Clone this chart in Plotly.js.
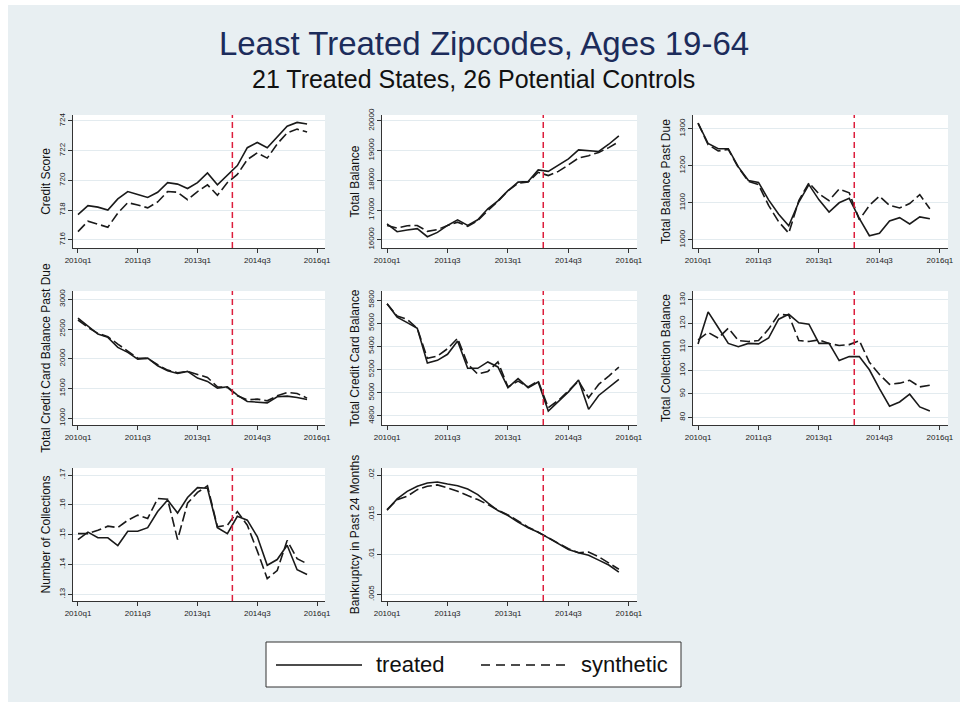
<!DOCTYPE html>
<html>
<head>
<meta charset="utf-8">
<script src="https://cdn.plot.ly/plotly-3.0.1.min.js"></script>
<style>
html,body{margin:0;padding:0;background:#ffffff;}
#chart{width:968px;height:707px;}
</style>
</head>
<body>
<div id="chart"></div>
<script>
// ---------------- DATA ----------------
const quarters = ['2010q1','2010q2','2010q3','2010q4','2011q1','2011q2','2011q3','2011q4',
  '2012q1','2012q2','2012q3','2012q4','2013q1','2013q2','2013q3','2013q4',
  '2014q1','2014q2','2014q3','2014q4','2015q1','2015q2','2015q3','2015q4'];
const xTickPositions = [0, 6, 12, 18, 24];
const xTickLabels = ['2010q1', '2011q3', '2013q1', '2014q3', '2016q1'];
const treatmentStart = 15.5;

const panelTitles = ['Credit Score', 'Total Balance', 'Total Balance Past Due',
  'Total Credit Card Balance Past Due', 'Total Credit Card Balance', 'Total Collection Balance',
  'Number of Collections', 'Bankruptcy in Past 24 Months'];

const creditScoreTreated = [717.7,718.3,718.2,718.0,718.75,719.25,719.05,718.85,719.2,719.85,719.75,719.45,719.85,720.5,719.7,720.35,721.0,722.2,722.55,722.2,722.9,723.65,723.9,723.8];
const creditScoreSynthetic = [716.55,717.25,717.05,716.85,717.8,718.5,718.35,718.15,718.55,719.25,719.2,718.7,719.25,719.7,719.0,719.85,720.4,721.4,721.85,721.5,722.45,723.2,723.45,723.25];
const creditScoreTicks = [716, 718, 720, 722, 724];

const totalBalanceTreated = [16530,16270,16325,16370,16100,16245,16480,16670,16480,16670,17040,17310,17650,17940,17960,18350,18300,18520,18720,19025,19000,18970,19215,19500];
const totalBalanceSynthetic = [16480,16390,16470,16480,16280,16340,16480,16590,16450,16640,16980,17290,17650,17900,17940,18270,18160,18300,18520,18750,18830,18940,19100,19300];
const totalBalanceTicks = [16000, 17000, 18000, 19000, 20000];

const pastDueTreated = [1315,1260,1246,1246,1197,1160,1155,1108,1069,1038,1102,1149,1108,1075,1100,1112,1058,1011,1018,1051,1060,1043,1062,1057];
const pastDueSynthetic = [1315,1257,1240,1244,1195,1158,1149,1093,1049,1018,1106,1154,1124,1106,1137,1127,1054,1093,1118,1093,1086,1098,1122,1084];
const pastDueTicks = [1000, 1100, 1200, 1300];

const ccPastDueTreated = [2685,2556,2416,2360,2191,2107,1994,2011,1882,1798,1753,1787,1674,1618,1506,1528,1388,1281,1264,1258,1360,1371,1348,1315];
const ccPastDueSynthetic = [2652,2528,2427,2371,2247,2124,2011,2006,1899,1809,1764,1787,1742,1685,1528,1517,1376,1309,1320,1292,1376,1433,1416,1337];
const ccPastDueTicks = [1000, 1500, 2000, 2500, 3000];

const ccBalanceTreated = [5768,5653,5605,5556,5257,5280,5332,5447,5211,5211,5266,5223,5044,5122,5044,5093,4843,4930,5008,5110,4857,4977,5044,5116];
const ccBalanceSynthetic = [5768,5662,5633,5556,5297,5316,5380,5470,5247,5161,5184,5267,5050,5101,5050,5101,4871,4935,5016,5101,4957,5072,5144,5222];
const ccBalanceTicks = [4800, 5000, 5200, 5400, 5600, 5800];

const collectionBalTreated = [111.3,124.9,118.3,111.5,110.1,111.5,111.3,113.8,121.8,123.9,120.3,119.7,111.5,111.5,104.2,105.9,105.9,100.3,92.3,84.8,86.6,89.9,84.5,82.8];
const collectionBalSynthetic = [113.0,116.2,113.8,118.0,112.7,112.3,112.7,117.6,123.9,123.5,112.7,112.3,113.0,111.5,110.6,111.0,112.7,103.5,98.3,94.1,94.6,95.8,93.0,93.7];
const collectionBalTicks = [80, 90, 100, 110, 120, 130];

const numCollTreated = [.1484,.1509,.1490,.1490,.1464,.1512,.1512,.1524,.1578,.1617,.1573,.1625,.1658,.1656,.1524,.1504,.1562,.1549,.1494,.1398,.1417,.1465,.1383,.1367];
const numCollSynthetic = [.1504,.1504,.1515,.1529,.1524,.1549,.1566,.1555,.1622,.1619,.1484,.1606,.1642,.1664,.1527,.1532,.1578,.1532,.1446,.1353,.1380,.1481,.1420,.1403];
const numCollTicks = [.13, .14, .15, .16, .17];

const bankruptcyTreated = [.01557,.0170,.01795,.01858,.0190,.01912,.01887,.01866,.01824,.01753,.01649,.01553,.0149,.01407,.01336,.01281,.0121,.01135,.01064,.01023,.0099,.0093,.00868,.0078];
const bankruptcySynthetic = [.01565,.0169,.01733,.01816,.01858,.01875,.01837,.01795,.01741,.01691,.01628,.01557,.01499,.0142,.01344,.01281,.0121,.01139,.01072,.01023,.01031,.00972,.00889,.00815];
const bankruptcyTicks = [.005, .01, .015, .02];

const seriesNames = ['treated', 'synthetic'];

// ---------------- LAYOUT / STYLE ----------------
const W = 968, H = 707;
const FONT = 'Liberation Sans, Arial, Helvetica, sans-serif';
const cols = [[73, 325], [382, 637], [693, 948]];
const rows = [[115, 248], [291, 425], [468, 601]];

const panels = [
  {t: creditScoreTreated, s: creditScoreSynthetic, ticks: creditScoreTicks, range: [715.45, 724.4]},
  {t: totalBalanceTreated, s: totalBalanceSynthetic, ticks: totalBalanceTicks, range: [15720, 20200]},
  {t: pastDueTreated, s: pastDueSynthetic, ticks: pastDueTicks, range: [978, 1337]},
  {t: ccPastDueTreated, s: ccPastDueSynthetic, ticks: ccPastDueTicks, range: [885, 3140]},
  {t: ccBalanceTreated, s: ccBalanceSynthetic, ticks: ccBalanceTicks, range: [4722, 5878]},
  {t: collectionBalTreated, s: collectionBalSynthetic, ticks: collectionBalTicks, range: [76.8, 133.8]},
  {t: numCollTreated, s: numCollSynthetic, ticks: numCollTicks, range: [.1278, .1724]},
  {t: bankruptcyTreated, s: bankruptcySynthetic, ticks: bankruptcyTicks, range: [.00416, .02088]}
];

const xIndex = quarters.map((q, i) => i);
const fmtTick = v => String(v).replace(/^0\./, '.');

const data = [];
const shapes = [];
const layout = {
  width: W, height: H,
  margin: {l: 0, r: 0, t: 0, b: 0},
  paper_bgcolor: '#e8eff2',
  plot_bgcolor: '#ffffff',
  showlegend: false,
  font: {family: FONT, color: '#222'},
  title: {
    text: 'Least Treated Zipcodes, Ages 19-64',
    font: {family: FONT, size: 33, color: '#1c2c5b'},
    x: 484 / W, xanchor: 'center', xref: 'paper',
    y: 1 - 43 / H, yanchor: 'middle', yref: 'container'
  },
  annotations: [],
  shapes: shapes
};

panels.forEach((p, k) => {
  const n = k + 1;
  const col = cols[k % 3], row = rows[Math.floor(k / 3)];
  const xa = 'x' + (n === 1 ? '' : n), ya = 'y' + (n === 1 ? '' : n);
  data.push({
    x: xIndex, y: p.t, xaxis: xa, yaxis: ya, type: 'scatter', mode: 'lines',
    name: seriesNames[0], line: {color: '#1a1a1a', width: 1.6}, hoverinfo: 'x+y'
  });
  data.push({
    x: xIndex, y: p.s, xaxis: xa, yaxis: ya, type: 'scatter', mode: 'lines',
    name: seriesNames[1], line: {color: '#1a1a1a', width: 1.6, dash: '10px,4px'}, hoverinfo: 'x+y'
  });
  layout['xaxis' + (n === 1 ? '' : n)] = {
    domain: [col[0] / W, col[1] / W], anchor: ya,
    range: [-0.5, 24.8], tickvals: xTickPositions, ticktext: xTickLabels,
    ticks: 'outside', ticklen: 4, tickcolor: '#333', tickwidth: 1,
    showline: true, linecolor: '#333', linewidth: 1,
    showgrid: false, zeroline: false, fixedrange: true,
    tickfont: {size: 8, color: '#222', family: FONT}
  };
  layout['yaxis' + (n === 1 ? '' : n)] = {
    domain: [1 - row[1] / H, 1 - row[0] / H], anchor: xa,
    range: p.range, tickvals: p.ticks, ticktext: p.ticks.map(fmtTick), tickangle: -90,
    ticks: 'outside', ticklen: 4, tickcolor: '#333', tickwidth: 1,
    showline: true, linecolor: '#333', linewidth: 1,
    showgrid: true, gridcolor: '#e3ebef', gridwidth: 1,
    zeroline: false, fixedrange: true,
    tickfont: {size: 8, color: '#222', family: FONT},
    title: {text: panelTitles[k], font: {size: 12, color: '#111', family: FONT}, standoff: 4}
  };
  shapes.push({
    type: 'line', xref: xa, yref: ya + ' domain',
    x0: treatmentStart, x1: treatmentStart, y0: 0, y1: 1,
    line: {color: '#dc1e3c', width: 1.5, dash: '6px,4px'}
  });
});

// thin white frame around the graph region
const px = v => v / W, py = v => 1 - v / H;
[[0, 0, 8, H], [960, 0, W, H], [0, 0, W, 5], [0, 702, W, H]].forEach(r => {
  shapes.push({type: 'rect', xref: 'paper', yref: 'paper', x0: px(r[0]), x1: px(r[2]), y0: py(r[1]), y1: py(r[3]),
    fillcolor: '#ffffff', line: {width: 0}});
});

// legend box
shapes.push({type: 'rect', xref: 'paper', yref: 'paper', x0: px(266), x1: px(681), y0: py(642), y1: py(687),
  fillcolor: '#ffffff', line: {color: '#333', width: 1}});
shapes.push({type: 'line', xref: 'paper', yref: 'paper', x0: px(276), x1: px(362), y0: py(665), y1: py(665),
  line: {color: '#111', width: 1.6}});
shapes.push({type: 'line', xref: 'paper', yref: 'paper', x0: px(481), x1: px(567), y0: py(665), y1: py(665),
  line: {color: '#111', width: 1.6, dash: '9px,6px'}});
layout.annotations.push({text: seriesNames[0], xref: 'paper', yref: 'paper', x: px(374), y: py(664),
  xanchor: 'left', yanchor: 'middle', showarrow: false, font: {size: 22, color: '#111', family: FONT}});
layout.annotations.push({text: seriesNames[1], xref: 'paper', yref: 'paper', x: px(579), y: py(664),
  xanchor: 'left', yanchor: 'middle', showarrow: false, font: {size: 22, color: '#111', family: FONT}});

// subtitle
layout.annotations.push({text: '21 Treated States, 26 Potential Controls', xref: 'paper', yref: 'paper',
  x: px(473), y: py(79), xanchor: 'center', yanchor: 'middle', showarrow: false,
  font: {size: 25, color: '#111', family: FONT}});

Plotly.newPlot('chart', data, layout, {displayModeBar: false, staticPlot: true});
</script>
</body>
</html>
